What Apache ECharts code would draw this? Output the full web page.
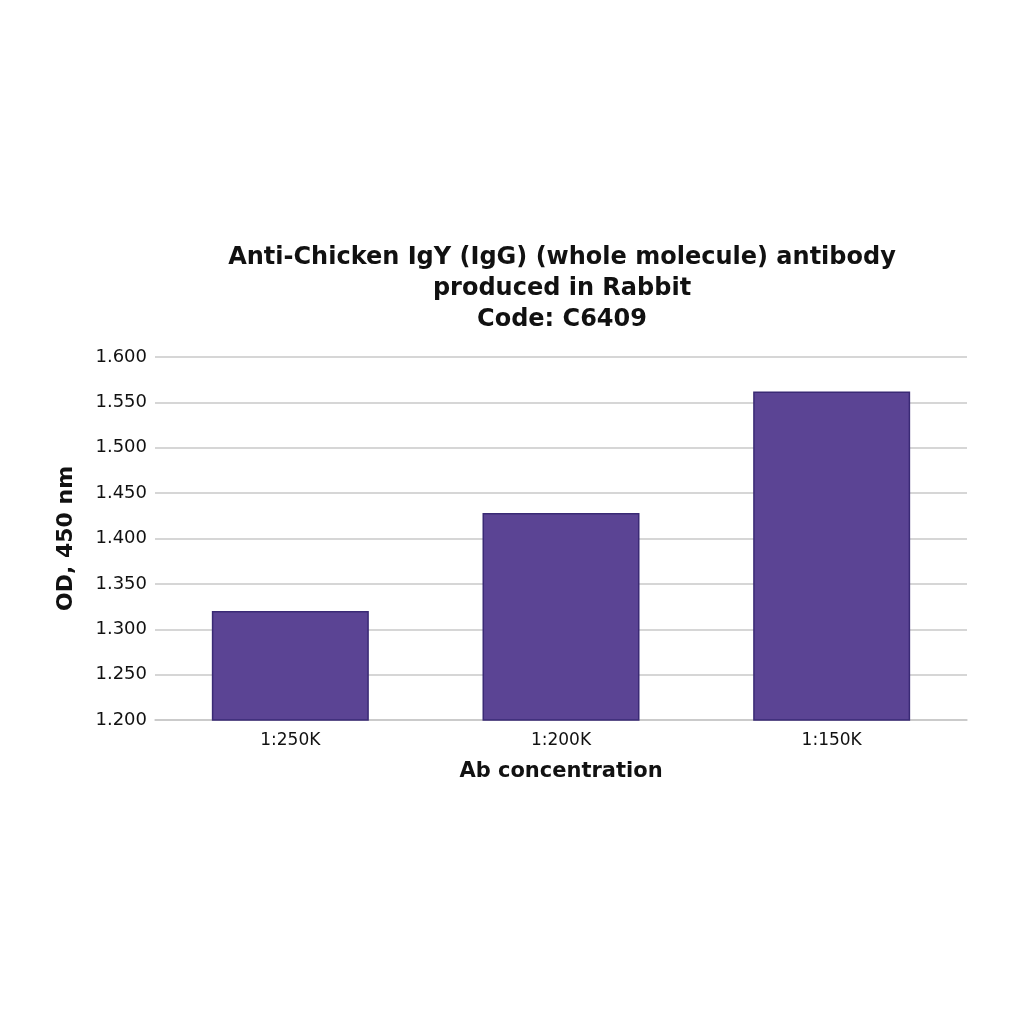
<!DOCTYPE html>
<html><head><meta charset="utf-8">
<script src="https://cdn.jsdelivr.net/npm/echarts@6/dist/echarts.min.js"></script>
<style>html,body{margin:0;padding:0;background:#fff}#c{width:1024px;height:1024px}</style>
</head><body><div id="c"></div>
<script>
const categories = ['1:250K', '1:200K', '1:150K'];
const odValues = [1.320, 1.428, 1.562];
const titleLines = ['Anti-Chicken IgY (IgG) (whole molecule) antibody', 'produced in Rabbit', 'Code: C6409'];

const chart = echarts.init(document.getElementById('c'));
chart.setOption({
  backgroundColor: '#ffffff',
  title: {
    text: titleLines.join('\n'),
    left: 557, top: 237, textAlign: 'center',
    textStyle: { fontFamily: 'DejaVu Sans', fontWeight: 'bold', fontSize: 24, lineHeight: 31, color: '#111' }
  },
  grid: { left: 155, right: 57, top: 357, bottom: 304, containLabel: false },
  xAxis: {
    type: 'category', data: categories,
    name: 'Ab concentration', nameLocation: 'middle', nameGap: 41,
    nameTextStyle: { fontFamily: 'DejaVu Sans', fontWeight: 'bold', fontSize: 21, color: '#111' },
    axisLine: { show: true, lineStyle: { color: '#c8c8c8', width: 1.5 } },
    axisTick: { show: false },
    axisLabel: { fontFamily: 'DejaVu Sans', fontSize: 17, color: '#111', margin: 12 }
  },
  yAxis: {
    type: 'value', min: 1.2, max: 1.6, interval: 0.05,
    name: 'OD, 450 nm', nameLocation: 'middle', nameGap: 78,
    nameTextStyle: { fontFamily: 'DejaVu Sans', fontWeight: 'bold', fontSize: 22, color: '#111' },
    axisLine: { show: false }, axisTick: { show: false },
    axisLabel: { fontFamily: 'DejaVu Sans', fontSize: 18, color: '#111', margin: 8,
      formatter: v => v.toFixed(3) },
    splitLine: { lineStyle: { color: '#c8c8c8', width: 1.5 } }
  },
  series: [{
    type: 'bar', data: odValues, barWidth: '58%',
    itemStyle: { color: '#5b4494', borderColor: '#3a2a75', borderWidth: 1.5 }
  }]
});
</script></body></html>
